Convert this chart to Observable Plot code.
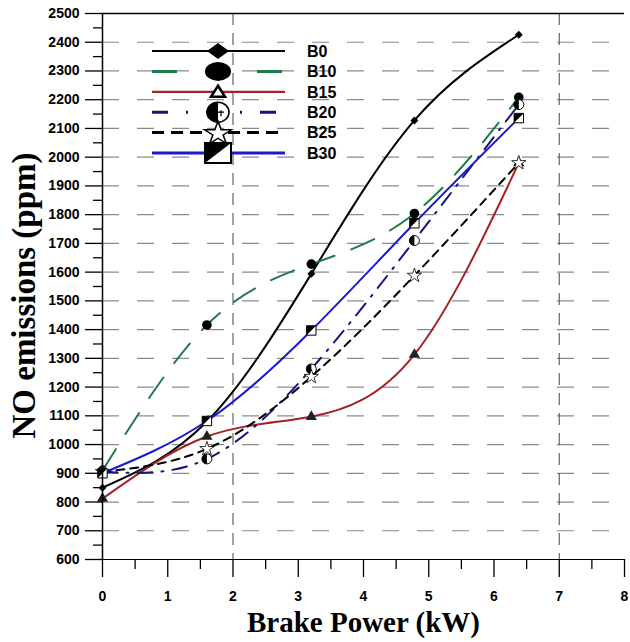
<!DOCTYPE html>
<html><head><meta charset="utf-8">
<script src="https://cdn.jsdelivr.net/npm/d3@7"></script>
<script src="https://cdn.jsdelivr.net/npm/@observablehq/plot@0.6"></script>
<style>
body{margin:0;background:#fff;}
#wrap{position:relative;width:630px;height:642px;}
#legend{position:absolute;left:0;top:0;pointer-events:none;}
</style></head><body><div id="wrap"></div>
<script>
// ---- data ----
const power = [0, 1.6, 3.2, 4.78, 6.38];
const B0  = [850, 1080, 1594, 2128, 2426];
const B10 = [910, 1416, 1628, 1804, 2208];
const B15 = [812, 1028, 1097, 1313, 1980];
const B20 = [905, 950, 1263, 1710, 2183];
const B25 = [905, 985, 1236, 1588, 1980];
const B30 = [900, 1082, 1397, 1770, 2136];
const seriesNames = ["B0", "B10", "B15", "B20", "B25", "B30"];
const yTicks = d3.range(600, 2501, 100);
const yMinor = d3.range(650, 2500, 100);
const xTicks = d3.range(0, 9, 1);
const xMinor = d3.range(0.5, 8, 1);
const yGrid = d3.range(700, 2500, 100);
const xGrid = [2, 7];

// ---- styles ----
const colors = {B0: "#000000", B10: "#217a4b", B15: "#a32222", B20: "#15157f", B25: "#000000", B30: "#1a1acf"};
const dashes = {B0: null, B10: "25,18", B15: null, B20: "15,9,2,9", B25: "8,6", B30: null};

const pts = vals => power.map((x, j) => ({x, y: vals[j]}));
const table = {B0: pts(B0), B10: pts(B10), B15: pts(B15), B20: pts(B20), B25: pts(B25), B30: pts(B30)};

const halfCircle = {draw(ctx, size) {
  const r = Math.sqrt(size / Math.PI);
  ctx.moveTo(0, -r); ctx.arc(0, 0, r, -Math.PI / 2, Math.PI / 2, true); ctx.closePath();
}};
const halfSquare = {draw(ctx, size) {
  const s = Math.sqrt(size) / 2;
  ctx.moveTo(-s, -s); ctx.lineTo(s, -s); ctx.lineTo(-s, s); ctx.closePath();
}};

const lineMarks = seriesNames.map(n => Plot.line(table[n], {
  x: "x", y: "y", curve: "natural", stroke: colors[n], strokeWidth: 2,
  strokeDasharray: dashes[n]
}));

const serif = "'Liberation Serif', 'Times New Roman', serif";

const chart = Plot.plot({
  width: 630, height: 642,
  marginLeft: 102, marginRight: 6, marginTop: 13, marginBottom: 83,
  x: {domain: [0, 8]},
  y: {domain: [600, 2500]},
  style: {fontFamily: "Arial, 'Liberation Sans', sans-serif", fontSize: "14px", fontWeight: "bold", color: "black", background: "white"},
  marks: [
    Plot.ruleY(yGrid, {stroke: "#8a8a8a", strokeWidth: 1.2, strokeDasharray: "17,18"}),
    Plot.ruleX(xGrid, {stroke: "#555", strokeWidth: 1.1, strokeDasharray: "12,8"}),
    ...lineMarks,
    Plot.dot(table.B0, {x: "x", y: "y", symbol: "diamond2", r: 3.6, fill: "black"}),
    Plot.dot(table.B10, {x: "x", y: "y", symbol: "circle", r: 4.8, fill: "black"}),
    Plot.dot(table.B15, {x: "x", y: "y", symbol: "triangle", r: 3.2, fill: "#222", stroke: "#222"}),
    Plot.dot(table.B20, {x: "x", y: "y", symbol: "circle", r: 5, fill: "white", stroke: "black", strokeWidth: 1}),
    Plot.dot(table.B20, {x: "x", y: "y", symbol: halfCircle, r: 5, fill: "black"}),
    Plot.dot(table.B25, {x: "x", y: "y", symbol: "star", r: 4.5, fill: "white", stroke: "black", strokeWidth: 0.8}),
    Plot.dot(table.B30, {x: "x", y: "y", symbol: "square", r: 5.3, fill: "white", stroke: "black", strokeWidth: 1}),
    Plot.dot(table.B30, {x: "x", y: "y", symbol: halfSquare, r: 5.3, fill: "black"}),
    Plot.ruleX([0], {stroke: "black", strokeWidth: 1.5}),
    Plot.ruleY([2500], {stroke: "black", strokeWidth: 1.5}),
    Plot.ruleY([600], {stroke: "black", strokeWidth: 1.2}),
    Plot.axisY(yTicks, {tickSize: 17, tickPadding: 6, tickFormat: d3.format("d"), label: null, stroke: "black", strokeWidth: 1.3}),
    Plot.axisY(yMinor, {tickSize: 9, tickFormat: () => "", label: null, stroke: "black", strokeWidth: 1.3}),
    Plot.axisX(xTicks, {tickSize: 18, tickPadding: 14, label: null, stroke: "black", strokeWidth: 1.3}),
    Plot.axisX(xMinor, {tickSize: 10, tickFormat: () => "", label: null, stroke: "black", strokeWidth: 1.3}),
    Plot.text(["NO emissions (ppm)"], {frameAnchor: "left", rotate: -90, dx: -78, dy: 9,
      fontSize: 33, fontFamily: serif, fontWeight: "bold", textAnchor: "middle", fill: "black"}),
    Plot.text(["Brake Power (kW)"], {frameAnchor: "bottom", lineAnchor: "middle", dy: 63,
      fontSize: 29, fontFamily: serif, fontWeight: "bold", textAnchor: "middle", fill: "black"})
  ]
});
document.getElementById("wrap").appendChild(chart);

// ---- legend (overlay inside the plot area) ----
const legendDash = {B0: null, B10: "25,80", B15: null, B20: "16,18,2,18", B25: "12,7", B30: null};
const lg = d3.select("#wrap").append("svg").attr("id", "legend").attr("width", 630).attr("height", 642);
seriesNames.forEach((n, i) => {
  const cy = 51 + i * 20.4;
  const g = lg.append("g").attr("transform", `translate(0,${cy})`);
  g.append("line").attr("x1", 152).attr("x2", 285).attr("y1", 0).attr("y2", 0)
    .attr("stroke", colors[n]).attr("stroke-width", n === "B0" || n === "B15" ? 2.2 : 3)
    .attr("stroke-dasharray", legendDash[n]);
  const m = g.append("g").attr("transform", "translate(218,0)");
  if (n === "B0") {
    m.append("path").attr("d", "M-11,0L0,-8L11,0L0,8Z").attr("fill", "black");
  } else if (n === "B10") {
    m.append("ellipse").attr("rx", 13).attr("ry", 9.5).attr("fill", "black");
  } else if (n === "B15") {
    m.append("path").attr("d", "M0,-6L7,5L-7,5Z").attr("fill", "white").attr("stroke", "black").attr("stroke-width", 2.6);
  } else if (n === "B20") {
    m.append("ellipse").attr("rx", 11).attr("ry", 10).attr("fill", "white").attr("stroke", "black").attr("stroke-width", 1.6);
    m.append("path").attr("d", "M0,-10A11,10 0 0 0 0,10Z").attr("fill", "black");
    m.append("path").attr("d", "M0,0H6M3,-2V4").attr("stroke", "black").attr("stroke-width", 1.2);
  } else if (n === "B25") {
    m.append("path").attr("d", d3.symbol(d3.symbolStar, 170)()).attr("transform", "scale(1.15,1) translate(0,1)")
      .attr("fill", "white").attr("stroke", "black").attr("stroke-width", 1.4);
  } else if (n === "B30") {
    m.append("rect").attr("x", -13).attr("y", -10).attr("width", 26).attr("height", 20)
      .attr("fill", "white").attr("stroke", "black").attr("stroke-width", 2);
    m.append("path").attr("d", "M-13,-10L13,-10L-13,10Z").attr("fill", "black");
  }
  g.append("text").attr("x", 307).attr("y", 0).attr("dy", "0.36em").text(n)
    .attr("font-family", "Arial, 'Liberation Sans', sans-serif").attr("font-weight", "bold")
    .attr("font-size", 16).attr("fill", "black");
});
</script></body></html>
